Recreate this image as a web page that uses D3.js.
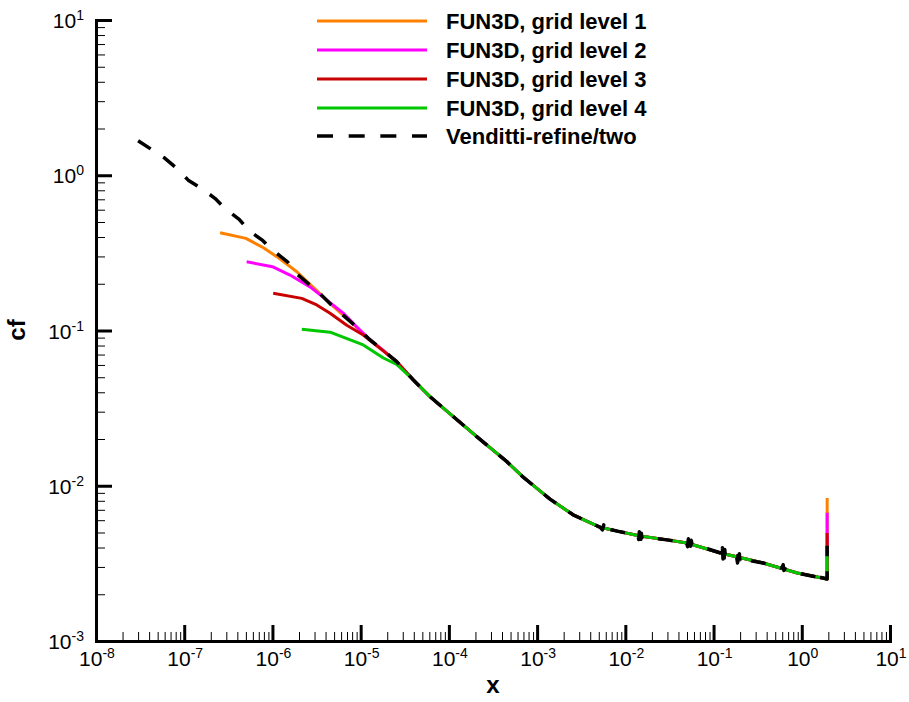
<!DOCTYPE html>
<html><head><meta charset="utf-8">
<script src="https://cdn.jsdelivr.net/npm/d3@7"></script>
<style>
html,body{margin:0;padding:0;background:#fff;}
svg{display:block;font-family:"Liberation Sans",Arial,Helvetica,sans-serif;}
</style></head><body>
<svg id="chart" width="909" height="702"></svg>
<script>
// ---------------- data ----------------
const seriesNames = ["FUN3D, grid level 1","FUN3D, grid level 2","FUN3D, grid level 3","FUN3D, grid level 4","Venditti-refine/two"];
const seriesColors = ["#FF8000","#FF00FF","#C80000","#00C800","#000000"];

const xTickExps = [-8,-7,-6,-5,-4,-3,-2,-1,0,1];
const yTickExps = [-3,-2,-1,0,1];

// leading-edge parts (differ per grid)
const grid1X  = [2.55e-7,5.0e-7,7.9e-7,1.12e-6,1.89e-6,2.67e-6,4.9e-6,6.6e-6,9.4e-6,1.22e-5,1.8e-5,2.56e-5];
const grid1Cf = [0.426,0.392,0.341,0.299,0.239,0.198,0.143,0.123,0.103,0.089,0.0745,0.063];
const grid2X  = [5.1e-7,1.0e-6,1.58e-6,2.67e-6,6.3e-6,9.4e-6,1.22e-5,1.8e-5,2.56e-5];
const grid2Cf = [0.277,0.2575,0.2275,0.191,0.130,0.103,0.089,0.0745,0.063];
const grid3X  = [1.02e-6,2.15e-6,3.18e-6,4.5e-6,6.96e-6,1.07e-5,1.8e-5,2.56e-5];
const grid3Cf = [0.174,0.161,0.146,0.129,0.108,0.0935,0.074,0.0628];
const grid4X  = [2.15e-6,4.5e-6,8.3e-6,1.07e-5,1.81e-5,2.56e-5];
const grid4Cf = [0.102,0.0975,0.0855,0.0807,0.0665,0.0605];

// common downstream part of the FUN3D solutions
const tailX  = [3.96e-5,6.1e-5,1.0e-4,2.07e-4,4.54e-4,6.9e-4,1.4e-3,2.56e-3,5.2e-3,8.1e-3,0.0147,0.0298,0.050,0.12,0.365,0.89,1.94];
const tailCf = [0.048,0.0375,0.0295,0.0207,0.0143,0.0114,0.0082,0.0065,0.0054,0.0051,0.00474,0.00448,0.00428,0.00369,0.00318,0.00274,0.00251];

// trailing-edge spike height at x = 1.94
const endX = 1.94;
const grid1End = 0.00834, grid2End = 0.00669, grid3End = 0.00497, grid4End = 0.0041;

// Venditti reference
const vendX  = [3.0e-8,6.0e-8,8.2e-8,1.11e-7,1.58e-7,2.23e-7,3.0e-7,4.2e-7,5.4e-7,7.8e-7,1.02e-6,1.48e-6,1.89e-6,2.67e-6,3.6e-6,4.9e-6,6.6e-6,9.4e-6,1.22e-5,1.8e-5,2.56e-5,3.96e-5,6.1e-5,1.0e-4,2.07e-4,4.54e-4,6.9e-4,1.4e-3,2.56e-3,5.2e-3,5.5e-3,5.7e-3,5.9e-3,6.1e-3,6.3e-3,8.1e-3,0.0139,0.0142,0.0144,0.0146,0.0148,0.0150,0.0152,0.0154,0.0157,0.0298,0.0495,0.0508,0.0518,0.0528,0.0538,0.0548,0.0558,0.0570,0.120,0.124,0.126,0.128,0.130,0.132,0.134,0.136,0.139,0.183,0.187,0.190,0.193,0.196,0.199,0.203,0.365,0.600,0.615,0.628,0.640,0.890,1.48,1.51,1.54,1.57,1.94,1.94];
const vendCf = [1.67,1.29,1.11,0.93,0.82,0.71,0.60,0.52,0.44,0.379,0.327,0.277,0.231,0.196,0.169,0.142,0.123,0.103,0.089,0.0745,0.063,0.048,0.0375,0.0295,0.0207,0.0143,0.0114,0.0082,0.0065,0.0054,0.00520,0.00560,0.00518,0.00552,0.00528,0.0051,0.00478,0.00450,0.00505,0.00448,0.00500,0.00452,0.00495,0.00462,0.00470,0.00448,0.00430,0.00405,0.00455,0.00402,0.00452,0.00408,0.00445,0.00422,0.00369,0.00340,0.00398,0.00338,0.00395,0.00342,0.00388,0.00350,0.00362,0.00345,0.00318,0.00372,0.00315,0.00365,0.00322,0.00338,0.00318,0.00295,0.00310,0.00285,0.00292,0.00274,0.00258,0.00272,0.00248,0.00258,0.00251,0.0041];

// ---------------- build ----------------
const zip = (a,b) => a.map((v,i)=>[v,b[i]]);
const tail = zip(tailX, tailCf);
const series = [
  zip(grid1X,grid1Cf).concat(tail,[[endX,grid1End]]),
  zip(grid2X,grid2Cf).concat(tail,[[endX,grid2End]]),
  zip(grid3X,grid3Cf).concat(tail,[[endX,grid3End]]),
  zip(grid4X,grid4Cf).concat(tail,[[endX,grid4End]]),
  zip(vendX,vendCf)
];

const svg = d3.select("#chart");
const x = d3.scaleLog().domain([1e-8,10]).range([96,890]);
const y = d3.scaleLog().domain([1e-3,10]).range([641,20]);

const xMajor = xTickExps.map(e=>Math.pow(10,e));
const yMajor = yTickExps.map(e=>Math.pow(10,e));
const notPow = v=>{const m=v/Math.pow(10,Math.floor(Math.log10(v)+1e-9));return Math.abs(m-1)>1e-6;};
const xMinor = x.ticks().filter(notPow);
const yMinor = y.ticks().filter(notPow);

// curves
const line = d3.line().x(d=>x(d[0])).y(d=>y(d[1]));
series.forEach((s,i)=>{
  svg.append("path").datum(s)
    .attr("d",line)
    .attr("fill","none")
    .attr("stroke",seriesColors[i])
    .attr("stroke-width", i===4?3.5:3)
    .attr("stroke-linejoin","round")
    .attr("stroke-dasharray", i===4?"15,15":null);
});

// axes
const gx = svg.append("g").attr("transform","translate(0,641)");
gx.call(d3.axisBottom(x).tickValues(xMinor).tickSizeInner(-9).tickSizeOuter(0).tickFormat(""))
  .call(g=>g.select(".domain").remove())
  .call(g=>g.selectAll(".tick line").attr("stroke","#000").attr("stroke-width",1));
const gxM = svg.append("g").attr("transform","translate(0,641)");
gxM.call(d3.axisBottom(x).tickValues(xMajor).tickSizeInner(-16).tickSizeOuter(0).tickFormat(""))
  .call(g=>g.selectAll(".tick text").remove())
  .call(g=>g.selectAll(".tick line").attr("stroke","#000").attr("stroke-width",3))
  .call(g=>g.select(".domain").attr("stroke","#000").attr("stroke-width",3).attr("stroke-linecap","square"));

const gy = svg.append("g").attr("transform","translate(96,0)");
gy.call(d3.axisLeft(y).tickValues(yMinor).tickSizeInner(-9).tickSizeOuter(0).tickFormat(""))
  .call(g=>g.select(".domain").remove())
  .call(g=>g.selectAll(".tick line").attr("stroke","#000").attr("stroke-width",1));
const gyM = svg.append("g").attr("transform","translate(96,0)");
gyM.call(d3.axisLeft(y).tickValues(yMajor).tickSizeInner(-16).tickSizeOuter(0).tickFormat(""))
  .call(g=>g.selectAll(".tick text").remove())
  .call(g=>g.selectAll(".tick line").attr("stroke","#000").attr("stroke-width",3))
  .call(g=>g.select(".domain").attr("stroke","#000").attr("stroke-width",3).attr("stroke-linecap","square"));

// tick labels
function powLabel(sel, e){
  sel.append("tspan").text("10");
  sel.append("tspan").attr("font-size",14).attr("dy",-8).text(String(e));
}
xTickExps.forEach(e=>{
  const t = svg.append("text").attr("x",x(Math.pow(10,e))+1).attr("y",666)
    .attr("text-anchor","middle").attr("font-size",21).attr("fill","#000");
  powLabel(t,e);
});
yTickExps.forEach(e=>{
  const t = svg.append("text").attr("x",84).attr("y",y(Math.pow(10,e))+8)
    .attr("text-anchor","end").attr("font-size",21).attr("fill","#000");
  powLabel(t,e);
});

// axis titles
svg.append("text").attr("x",493).attr("y",693).attr("text-anchor","middle")
  .attr("font-size",24).attr("font-weight","bold").text("x");
svg.append("text").attr("transform","translate(25,330) rotate(-90)").attr("text-anchor","middle")
  .attr("font-size",24).attr("font-weight","bold").text("cf");

// legend
const legY = [21,50,79,108,136];
seriesNames.forEach((n,i)=>{
  svg.append("line").attr("x1",317).attr("x2",427).attr("y1",legY[i]).attr("y2",legY[i])
    .attr("stroke",seriesColors[i]).attr("stroke-width",i===4?3.5:3)
    .attr("stroke-dasharray", i===4?"16,15.67":null);
  svg.append("text").attr("x",446).attr("y",legY[i]+8).attr("font-size",22)
    .attr("font-weight","bold").attr("fill","#000").text(n);
});
</script>
</body></html>
